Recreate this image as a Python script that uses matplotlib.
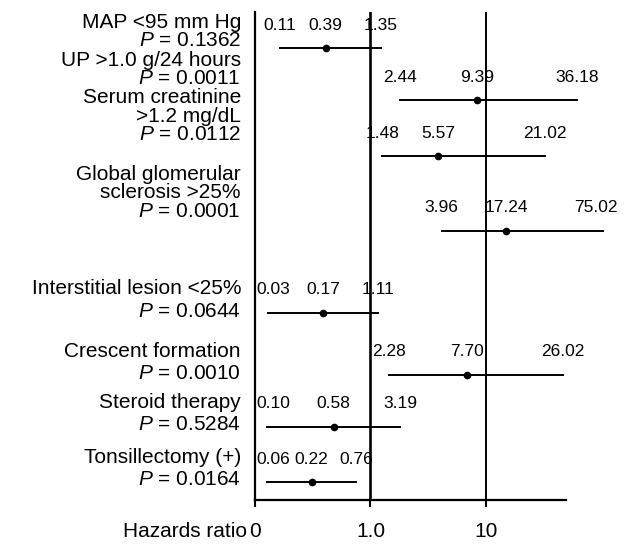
import matplotlib
matplotlib.use("Agg")
import matplotlib.pyplot as plt
from matplotlib.transforms import blended_transform_factory

# =====================================================
# DATA (printed values and marks)
# =====================================================

factors = ["MAP <95 mm Hg", "UP >1.0 g/24 hours", "Serum creatinine\n>1.2 mg/dL",
           "Global glomerular\nsclerosis >25%", "Interstitial lesion <25%",
           "Crescent formation", "Steroid therapy", "Tonsillectomy (+)"]
p_values = ["0.1362", "0.0011", "0.0112", "0.0001", "0.0644", "0.0010", "0.5284", "0.0164"]

lo_text = ["0.11", "2.44", "1.48", "3.96", "0.03", "2.28", "0.10", "0.06"]
hr_text = ["0.39", "9.39", "5.57", "17.24", "0.17", "7.70", "0.58", "0.22"]
hi_text = ["1.35", "36.18", "21.02", "75.02", "1.11", "26.02", "3.19", "0.76"]

# where the marks actually sit on the log axis in the figure
hr = [0.41, 8.35, 3.87, 15.0, 0.39, 6.9, 0.48, 0.31]
ci_lo = [0.165, 1.80, 1.27, 4.14, 0.129, 1.45, 0.126, 0.126]
ci_hi = [1.23, 61.8, 32.3, 104, 1.16, 46.7, 1.80, 0.756]

tick_vals = [0.1, 1, 10]
tick_labels = ["0", "1.0", "10"]

# =====================================================
# LAYOUT (vertical positions, pixels from top)
# =====================================================

row_y = [48, 100, 156, 231, 313, 375, 427, 482]
name_base = [27.5, 66, 103, 180, 294.5, 357, 408, 463]
p_base = [45.5, 83.5, 140, 217, 317, 379, 430, 485]

W, H = 625, 544
plt.rcParams['font.family'] = ['Liberation Sans', 'DejaVu Sans']
plt.rcParams['mathtext.fontset'] = 'custom'
plt.rcParams['mathtext.rm'] = 'Liberation Sans'
plt.rcParams['mathtext.it'] = 'Liberation Sans:italic'

fig = plt.figure(figsize=(W / 100, H / 100), dpi=100)
ax = fig.add_axes([255 / W, (H - 500) / H, (W - 255) / W, 488 / H])
ax.set_xscale('log')
ax.set_xlim(0.1, 160)
ax.set_ylim(500, 12)

for s in ['top', 'right']:
    ax.spines[s].set_visible(False)
ax.spines['left'].set_linewidth(1.6)
ax.spines['bottom'].set_linewidth(1.6)
ax.spines['bottom'].set_bounds(0.1, 49)

ax.axvline(1, color='black', lw=1.9, zorder=3)
ax.axvline(10, color='black', lw=1.4, zorder=3)

ax.set_xticks(tick_vals)
ax.set_xticklabels(tick_labels, fontsize=15)
ax.minorticks_off()
ax.tick_params(axis='x', direction='out', length=5, width=1.5, pad=10.5)
ax.tick_params(axis='y', left=False, labelleft=False)

# CI lines, points and printed numbers
for i in range(len(factors)):
    y = row_y[i]
    ax.plot([ci_lo[i], ci_hi[i]], [y, y], color='black', lw=1.4, clip_on=False, zorder=2)
    ax.plot(hr[i], y, 'o', color='black', ms=4.5, clip_on=False, zorder=4)
    for v, t in zip([ci_lo[i], hr[i], ci_hi[i]], [lo_text[i], hr_text[i], hi_text[i]]):
        xt = min(max(v, 0.145), 90)
        ax.text(xt, y - 18.5, t, ha='center', va='baseline', fontsize=12.5, zorder=2)

# left-hand labels
trans = blended_transform_factory(fig.transFigure, ax.transData)
x_lab = 241 / W
for i, name in enumerate(factors):
    lines = name.split("\n") + [r"$P$ = " + p_values[i]]
    n = len(lines)
    for k, line in enumerate(lines):
        yb = name_base[i] + (p_base[i] - name_base[i]) * k / (n - 1)
        ax.text(x_lab, yb, line, transform=trans, ha='right', va='baseline',
                fontsize=15, clip_on=False)

fig.text(247 / W, (H - 537) / H, "Hazards ratio", ha='right', va='baseline', fontsize=15)

plt.savefig("out.png", dpi=100)
